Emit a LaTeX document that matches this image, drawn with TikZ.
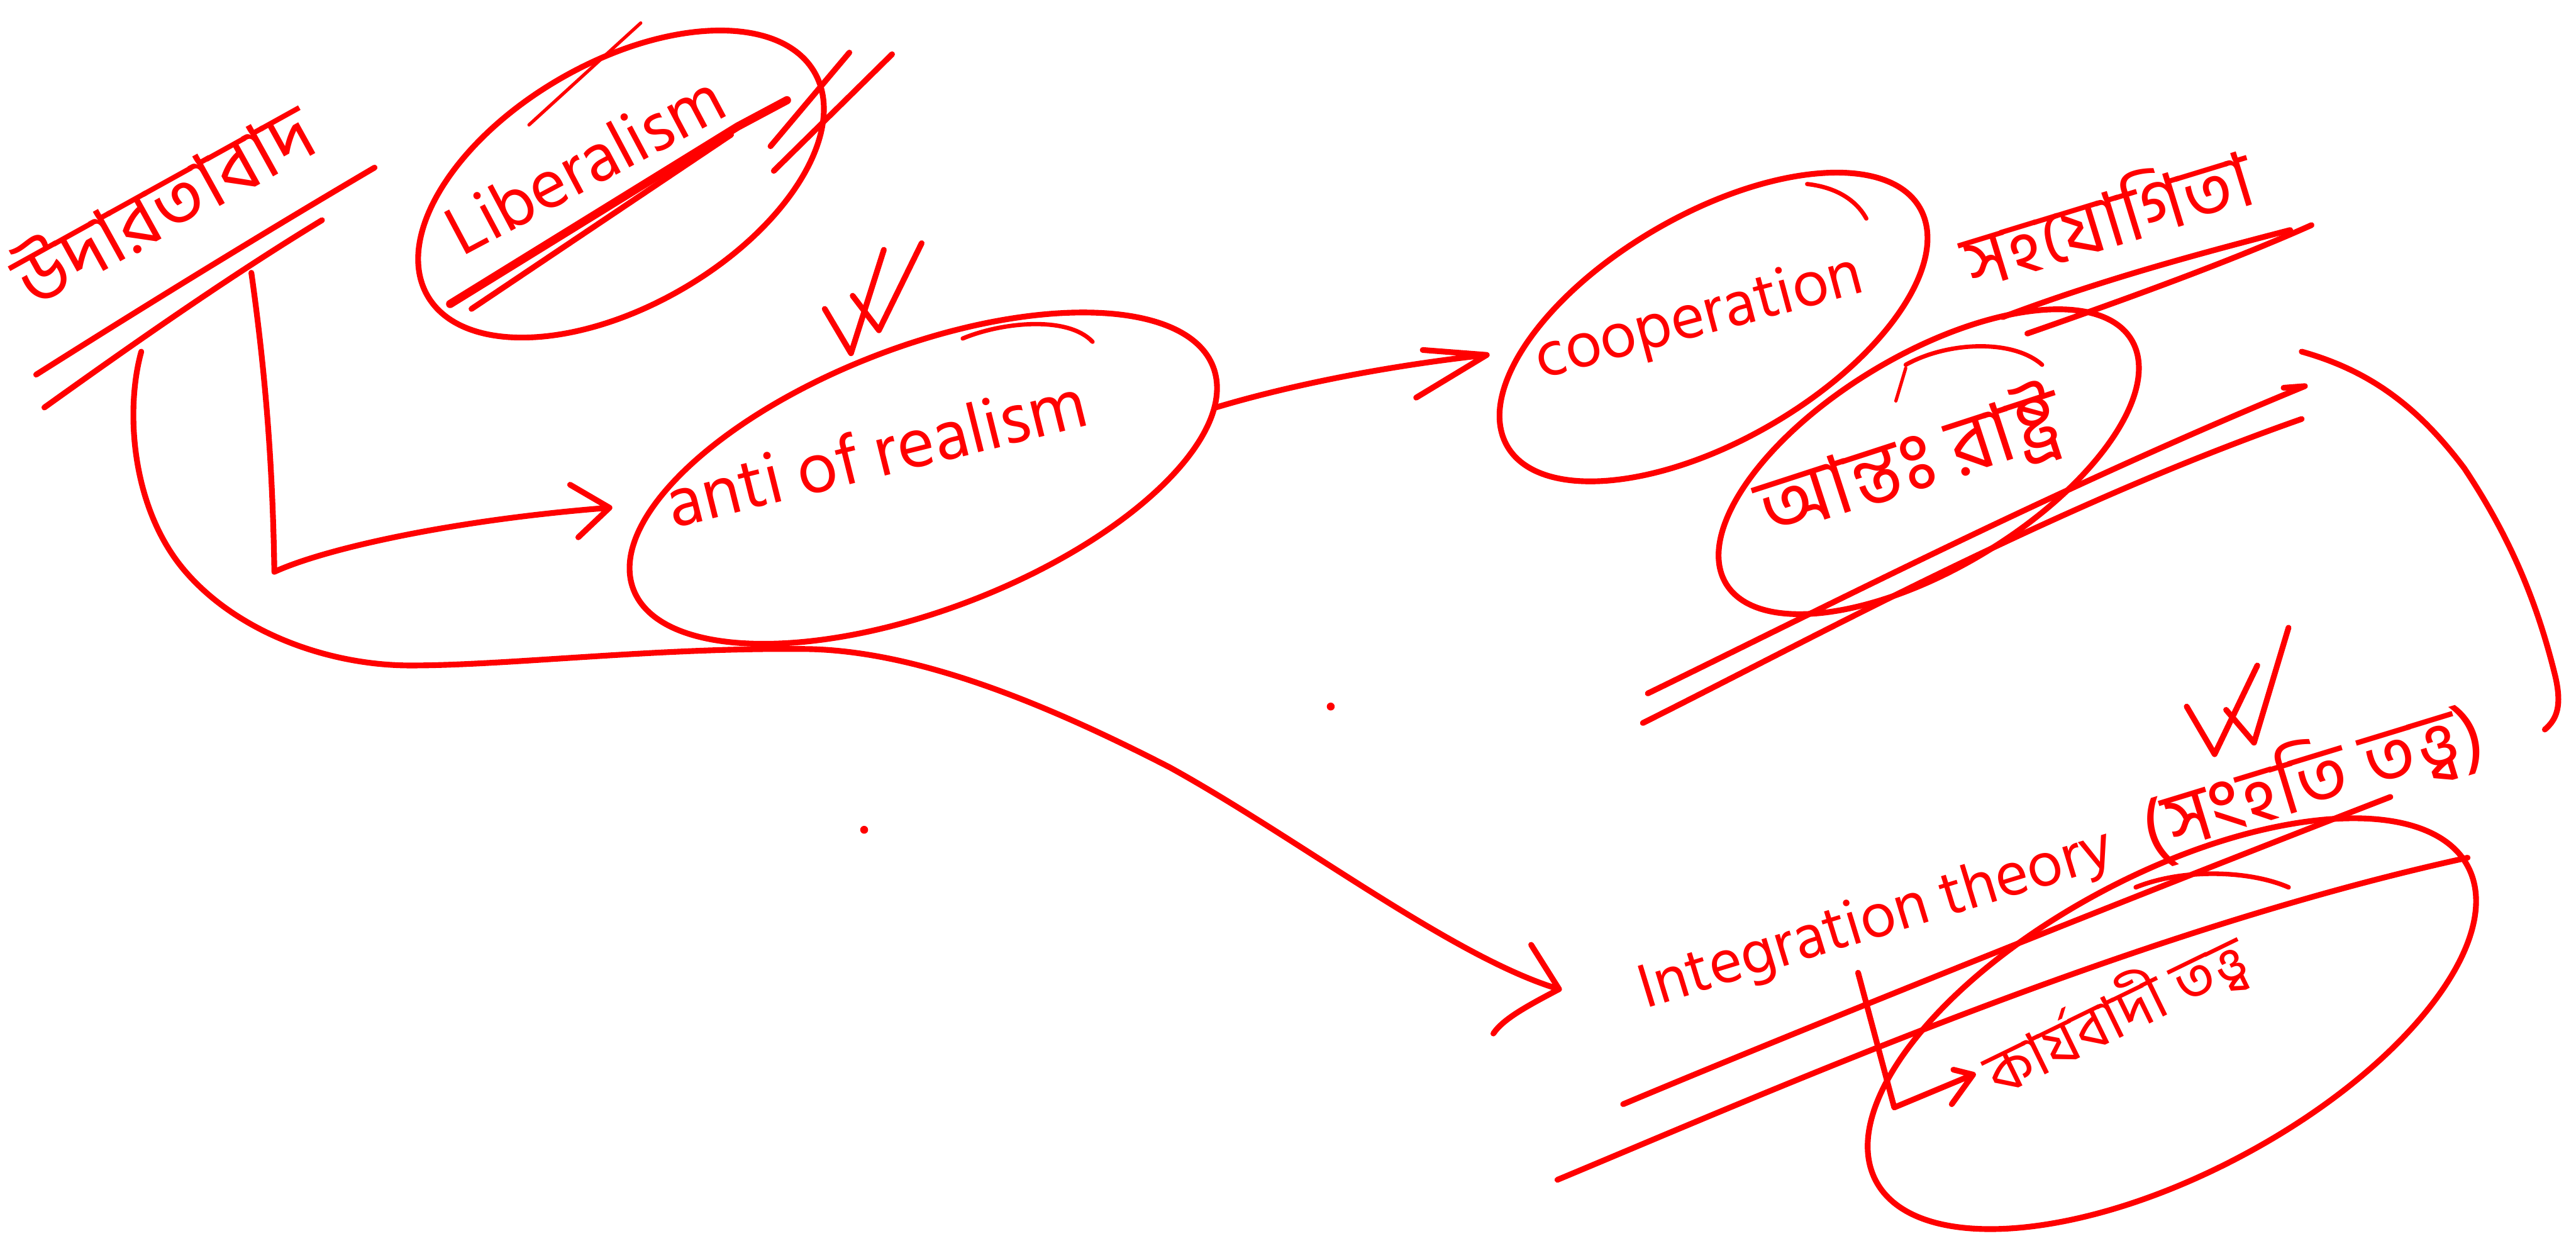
\documentclass[tikz,border=0pt]{standalone}
\usepackage{fontspec}
\setmainfont{Hind Siliguri}
\newfontfamily\bn{Hind Siliguri}[Script=Bengali]
\usetikzlibrary{shapes.geometric}
\definecolor{pen}{RGB}{255,0,0}
\newcommand\fitto[2]{\resizebox{#1}{!}{#2}}

\begin{document}
\begin{tikzpicture}[x=1pt,y=-1pt,
  ink/.style={draw=pen,line width=3.5pt,line cap=round,line join=round},
  fine/.style={ink,line width=2pt},
  heavy/.style={ink,line width=5pt},
  oval/.style={ellipse,draw=pen,line width=3.5pt,inner sep=0pt},
  word/.style={text=pen,inner sep=0pt,anchor=base}]
\path[use as bounding box] (0,0) rectangle (1568,752);

% ---------- bubbles ----------
\node[oval,rotate=30,minimum width=272pt,minimum height=148pt] (libo) at (378,112) {};
\node[oval,rotate=21,minimum width=378pt,minimum height=160pt] (anti) at (562,291) {};
\node[oval,rotate=30,minimum width=290pt,minimum height=138pt] (coop) at (1043,199) {};
\node[oval,rotate=31,minimum width=288pt,minimum height=130pt] (antah) at (1174,281) {};
\node[oval,rotate=28,minimum width=408pt,minimum height=182pt] (karya) at (1322,623) {};

% pen overlaps where each bubble was closed
\draw[fine] (322,76) -- (390,14);
\draw[ink,line width=2.6pt] (586,206) .. controls (610,196) and (650,192) .. (665,208);
\draw[ink,line width=2.6pt] (1100,112) .. controls (1118,114) and (1130,122) .. (1136,133);
\draw[ink,line width=2.6pt] (1160,222) .. controls (1185,208) and (1225,206) .. (1243,222);
\draw[fine] (1154,244) -- (1160,224);
\draw[ink,line width=2.8pt] (1300,540) .. controls (1330,528) and (1370,530) .. (1393,540);

% ---------- words ----------
\node[word,rotate=29] (udar) at (108,140) {\fitto{200pt}{\bn উদারতাবাদ}};
\node[word,rotate=28] (libt) at (363,113) {\fitto{185pt}{Liberalism}};
\node[word,rotate=14] (antit) at (537,290) {\fitto{262pt}{anti of realism}};
\node[word,rotate=15] (coopt) at (1037,204) {\fitto{205pt}{cooperation}};
\node[word,rotate=17] (sahaj) at (1288,150) {\fitto{182pt}{\bn সহযোগিতা}};
\node[word,rotate=18] (antaht) at (1168,298) {\fitto{192pt}{\bn আন্তঃ রাষ্ট্র}};
\node[word,rotate=17] (integ) at (1145,570) {\fitto{300pt}{Integration theory}};
\node[word,rotate=17] (samh) at (1412,490) {\fitto{215pt}{\bn (সংহতি তত্ত্ব)}};
\node[word,rotate=26] (karyat) at (1294,630) {\fitto{172pt}{\bn কার্যবাদী তত্ত্ব}};

% ---------- ticks ----------
\draw[ink] (502,188) -- (518,215) -- (538,152);
\draw[ink] (519,180) -- (535,201) -- (561,148);
\draw[ink] (1331,430) -- (1348,459) -- (1374,405);
\draw[ink] (1355,432) -- (1372,452) -- (1393,382);

% ---------- double underline and strike-outs ----------
\draw[ink] (22,228) .. controls (90,185) and (160,142) .. (228,102);
\draw[ink] (27,248) .. controls (80,210) and (140,168) .. (196,134);
\draw[heavy] (274,185) -- (449,77) -- (479,61);
\draw[ink] (287,188) -- (445,82);
\draw[ink] (469,89) -- (517,32);
\draw[ink] (471,104) -- (543,33);
\draw[ink] (1219,193) .. controls (1280,170) and (1340,154) .. (1394,140);
\draw[ink] (1234,203) .. controls (1300,180) and (1360,158) .. (1407,137);
\draw[ink] (1003,422) .. controls (1110,370) and (1250,298) .. (1403,235) -- (1390,236);
\draw[ink] (1000,440) .. controls (1110,385) and (1250,308) .. (1401,255);
\draw[ink] (988,672) .. controls (1100,625) and (1300,545) .. (1455,485);
\draw[ink] (948,718) .. controls (1080,663) and (1300,566) .. (1502,522);

% ---------- connectors ----------
\coordinate (u1) at (153,166);
\coordinate (u2) at (86,214);
\coordinate (tipA) at (371,309);
\coordinate (tipB) at (905,216);
\coordinate (tipC) at (949,602);
\coordinate (tipD) at (1201,654);
\coordinate (bendA) at (167,348);
\coordinate (bendD) at (1153,674);
\coordinate (arcS) at (1401,214);
\coordinate (arcE) at (1549,444);
\coordinate (antiE) at (740,248);

\draw[ink] (u1) .. controls (162,230) and (166,285) .. (bendA)
  .. controls (200,333) and (280,316) .. (tipA) -- ++(-24,-14) (tipA) -- ++(-19,18);
\draw[ink] (antiE) .. controls (790,233) and (850,222) .. (tipB) -- ++(-39,-3) (tipB) -- ++(-43,26);
\draw[ink] (u2) .. controls (76,250) and (80,310) .. (113,348)
  .. controls (145,385) and (200,405) .. (250,405)
  .. controls (310,405) and (400,394) .. (491,395)
  .. controls (560,396) and (640,430) .. (712,467)
  .. controls (790,510) and (885,583) .. (tipC) -- ++(-17,-27)
  (tipC) .. controls (930,612) and (915,620) .. (909,629);
\draw[ink] (1131,592) -- (bendD) -- (tipD) -- ++(-12,-3) (tipD) -- ++(-13,18);
\draw[ink] (arcS) .. controls (1440,225) and (1470,245) .. (1500,285)
  .. controls (1530,330) and (1545,370) .. (1555,410)
  .. controls (1560,430) and (1556,438) .. (arcE);

% stray pen dots
\fill[pen] (810,430) circle (2.4);
\fill[pen] (526,505) circle (2.4);
\end{tikzpicture}
\end{document}
